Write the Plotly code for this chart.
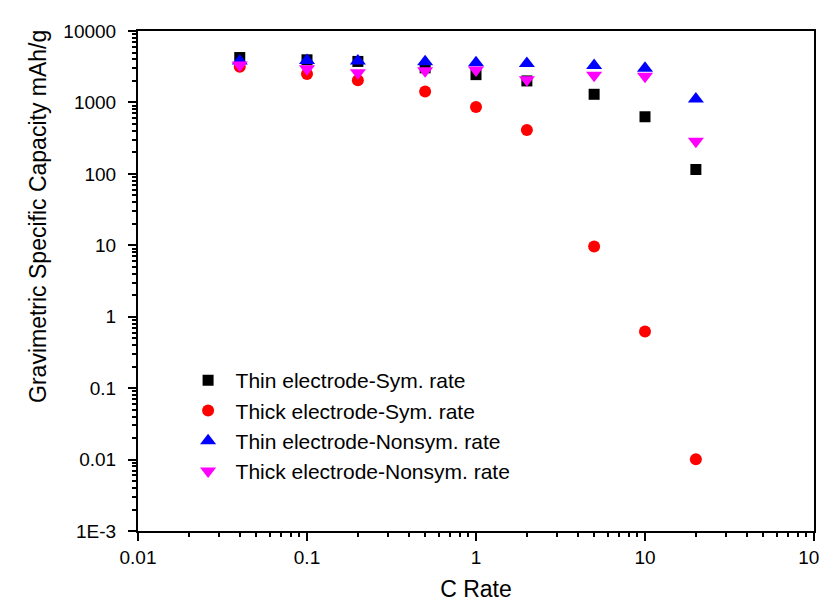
import plotly.graph_objects as go

c_rate = [0.04, 0.1, 0.2, 0.5, 1, 2, 5, 10, 20]
thin_sym = [4250, 3950, 3750, 3050, 2450, 2000, 1300, 630, 115]
thick_sym = [3150, 2500, 2050, 1420, 860, 410, 9.6, 0.62, 0.0101]
thin_nonsym = [3800, 3850, 3800, 3700, 3600, 3500, 3300, 3000, 1120]
thick_nonsym = [3350, 2950, 2600, 2780, 2850, 2080, 2400, 2330, 285]

series_names = ["Thin electrode-Sym. rate", "Thick electrode-Sym. rate",
                "Thin electrode-Nonsym. rate", "Thick electrode-Nonsym. rate"]
y_tick_vals = [0.001, 0.01, 0.1, 1, 10, 100, 1000, 10000]
y_tick_text = ["1E-3", "0.01", "0.1", "1", "10", "100", "1000", "10000"]
x_tick_vals = [0.01, 0.1, 1, 10, 100]
x_tick_text = ["0.01", "0.1", "1", "10", "100"]
y_title = "Gravimetric Specific Capacity mAh/g"
x_title = "C Rate"

styles = [
    dict(symbol="square", color="black", size=11),
    dict(symbol="circle", color="red", size=12),
    dict(symbol="triangle-up", color="blue", size=14),
    dict(symbol="triangle-down", color="magenta", size=14),
]

fig = go.Figure()
for name, ys, st in zip(series_names, [thin_sym, thick_sym, thin_nonsym, thick_nonsym], styles):
    fig.add_trace(go.Scatter(x=c_rate, y=ys, mode="markers", name=name,
                             marker=dict(symbol=st["symbol"], color=st["color"],
                                         size=st["size"], line=dict(width=0))))

def minor_vals(lo, hi):
    vals = []
    for e in range(lo, hi):
        for m in range(2, 10):
            vals.append(m * 10 ** e)
    return vals

font = "Liberation Sans, Arial, sans-serif"
fig.update_layout(
    width=827, height=602,
    margin=dict(l=130, r=21, t=23, b=79, autoexpand=False),
    paper_bgcolor="white", plot_bgcolor="white",
    font=dict(family=font, color="black", size=19),
    showlegend=True,
    legend=dict(x=0.063, y=0.342, xanchor="left", yanchor="top",
                bgcolor="rgba(0,0,0,0)", font=dict(size=21), tracegroupgap=0,
                itemwidth=45, itemsizing="trace"),
    xaxis=dict(type="log", range=[-2, 2], showgrid=False, zeroline=False,
               showline=True, linecolor="black", linewidth=2, mirror=True,
               ticks="outside", ticklen=8, tickwidth=1.5, tickcolor="black",
               tickmode="array", tickvals=x_tick_vals, ticktext=x_tick_text,
               tickfont=dict(size=19),
               minor=dict(tickmode="array", tickvals=minor_vals(-2, 2), ticks="outside",
                          ticklen=4, tickwidth=1.5, tickcolor="black", showgrid=False),
               title=dict(text=x_title, font=dict(size=23), standoff=14)),
    yaxis=dict(type="log", range=[-3, 4], showgrid=False, zeroline=False,
               showline=True, linecolor="black", linewidth=2, mirror=True,
               ticks="outside", ticklen=8, tickwidth=1.5, tickcolor="black",
               tickmode="array", tickvals=y_tick_vals, ticktext=y_tick_text,
               tickfont=dict(size=19), ticklabelstandoff=8,
               minor=dict(tickmode="array", tickvals=minor_vals(-3, 4), ticks="outside",
                          ticklen=4, tickwidth=1.5, tickcolor="black", showgrid=False)),
    annotations=[dict(text=y_title, textangle=-90, xref="paper", yref="paper",
                      x=-0.148, y=0.63, xanchor="center", yanchor="middle",
                      showarrow=False, font=dict(size=23, color="black"))],
)

fig.write_html("out.html")
